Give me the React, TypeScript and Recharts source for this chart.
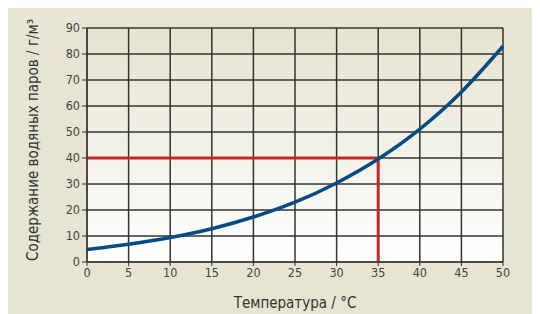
import React from 'react';
import { LineChart, Line, XAxis, YAxis, CartesianGrid } from 'recharts';

const temperatures = [0, 5, 10, 15, 20, 25, 30, 35, 40, 45, 50];
const vaporDensity = [4.8, 6.8, 9.4, 12.8, 17.3, 23.0, 30.4, 39.6, 51.1, 65.4, 83.0];

// red guide: 40 g/m3 reached at about 35 °C
const markerTemps = [0, 35, 35];
const markerValues = [40, 40, 0];

const xTicks = [0, 5, 10, 15, 20, 25, 30, 35, 40, 45, 50];
const yTicks = [0, 10, 20, 30, 40, 50, 60, 70, 80, 90];

const curve = temperatures.map((t, i) => ({ t, v: vaporDensity[i] }));
const marker = markerTemps.map((t, i) => ({ t, v: markerValues[i] }));

const FONT = "'Liberation Sans Narrow', 'DejaVu Sans Condensed', 'Roboto Condensed', sans-serif";
const INK = '#333';

const App: React.FC = () => {
  return (
    <div style={{ width: 532, height: 306, background: '#e6e4d2', fontFamily: FONT }}>
      <LineChart width={532} height={306} margin={{ top: 20, right: 37, bottom: 0, left: 0 }}>
        <defs>
          <linearGradient id="plotBg" x1="0" y1="0" x2="0" y2="1">
            <stop offset="0%" stopColor="#e5e3cf" />
            <stop offset="100%" stopColor="#ffffff" />
          </linearGradient>
        </defs>
        <CartesianGrid stroke={INK} strokeWidth={1.5} fill="url(#plotBg)" fillOpacity={1} />
        <XAxis
          dataKey="t"
          type="number"
          domain={[0, 50]}
          ticks={xTicks}
          allowDuplicatedCategory={false}
          height={52}
          stroke={INK}
          tickSize={4}
          tick={{ fill: '#444', fontSize: 12.5, fontFamily: FONT }}
          label={{
            value: 'Температура / °C',
            position: 'insideBottom',
            offset: 6,
            fill: INK,
            fontSize: 15,
            fontFamily: FONT,
          }}
        />
        <YAxis
          type="number"
          domain={[0, 90]}
          ticks={yTicks}
          width={79}
          stroke={INK}
          tickSize={5}
          tickMargin={2}
          tick={{ fill: '#444', fontSize: 12.5, fontFamily: FONT }}
          label={{
            value: 'Содержание водяных паров / г/м³',
            angle: -90,
            position: 'insideLeft',
            offset: 25,
            dy: 116,
            fill: INK,
            fontSize: 15,
            fontFamily: FONT,
          }}
        />
        <Line
          data={marker}
          dataKey="v"
          type="linear"
          stroke="#c1272d"
          strokeWidth={3}
          dot={false}
          isAnimationActive={false}
        />
        <Line
          data={curve}
          dataKey="v"
          type="monotone"
          stroke="#064b84"
          strokeWidth={3.5}
          dot={false}
          isAnimationActive={false}
        />
      </LineChart>
    </div>
  );
};

export default App;
